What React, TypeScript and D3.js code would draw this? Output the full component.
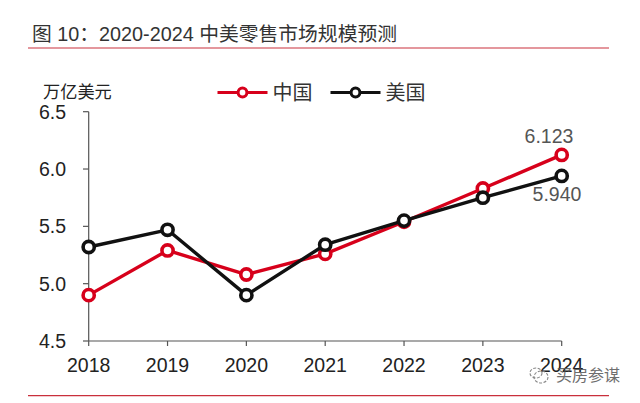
import React from "react";
import * as d3 from "d3";

const years = ["2018", "2019", "2020", "2021", "2022", "2023", "2024"];
const china = [4.9, 5.29, 5.08, 5.26, 5.54, 5.83, 6.123];
const usa = [5.32, 5.47, 4.9, 5.34, 5.55, 5.75, 5.94];
const yTicks = [4.5, 5.0, 5.5, 6.0, 6.5];
const titleText = "图 10：2020-2024 中美零售市场规模预测";
const unitText = "万亿美元";
const legendNames = ["中国", "美国"];
const endLabels = ["6.123", "5.940"];
const watermark = "买房参谋";

const RED = "#d7001b";
const BLACK = "#111111";
const latin = "'Liberation Sans', Arial, sans-serif";
const cjk = "'Liberation Sans', 'Noto Sans CJK SC', sans-serif";

const x = d3.scalePoint<string>().domain(years).range([88.7, 561.7]);
const y = d3.scaleLinear().domain([4.5, 6.5]).range([341, 111.7]);

function Series({ values, color }: { values: number[]; color: string }) {
  const line = d3
    .line<number>()
    .x((_, i) => x(years[i]) as number)
    .y((d) => y(d));
  return (
    <g>
      <path d={line(values) ?? ""} fill="none" stroke={color} strokeWidth={3.4} strokeLinejoin="round" />
      {values.map((v, i) => (
        <circle key={i} cx={x(years[i])} cy={y(v)} r={5.6} fill="#fff" stroke={color} strokeWidth={3.6} />
      ))}
    </g>
  );
}

function LegendItem({ px, name, color }: { px: number; name: string; color: string }) {
  return (
    <g>
      <line x1={px} x2={px + 50} y1={92.5} y2={92.5} stroke={color} strokeWidth={3.2} />
      <circle cx={px + 25} cy={92.5} r={4.4} fill="#fff" stroke={color} strokeWidth={3} />
      <text x={px + 55} y={99.5} fontFamily={cjk} fontSize={20} fill="#333">{name}</text>
    </g>
  );
}

export default function App() {
  return (
    <svg
      width={640}
      height={403}
      style={{ position: "absolute", left: 0, top: 0, background: "#fff" }}
    >
      <text x={32} y={41} fontFamily={cjk} fontSize={19.8} fill="#333">{titleText}</text>
      <line x1={28} x2={609} y1={48} y2={48} stroke="#c9303c" strokeWidth={1.2} />
      <line x1={28} x2={609} y1={395.7} y2={395.7} stroke="#c9303c" strokeWidth={1.2} />

      <text x={43} y={98} fontFamily={cjk} fontSize={17.2} fill="#222">{unitText}</text>

      <LegendItem px={217.5} name={legendNames[0]} color={RED} />
      <LegendItem px={330.5} name={legendNames[1]} color={BLACK} />

      <line x1={88.7} x2={88.7} y1={111.7} y2={341} stroke="#555" strokeWidth={1.2} />
      <line x1={88.7} x2={561.7} y1={341} y2={341} stroke="#555" strokeWidth={1.2} />
      {yTicks.map((t) => (
        <g key={t}>
          <line x1={83} x2={88.7} y1={y(t)} y2={y(t)} stroke="#555" strokeWidth={1.2} />
          <text x={66} y={y(t) + 7} textAnchor="end" fontFamily={latin} fontSize={19.5} fill="#222">{t.toFixed(1)}</text>
        </g>
      ))}
      {years.map((yr) => (
        <g key={yr}>
          <line x1={x(yr)} x2={x(yr)} y1={341} y2={346} stroke="#555" strokeWidth={1.2} />
          <text x={x(yr)} y={372} textAnchor="middle" fontFamily={latin} fontSize={19.5} fill="#222">{yr}</text>
        </g>
      ))}

      <Series values={china} color={RED} />
      <Series values={usa} color={BLACK} />

      <text x={549} y={143} textAnchor="middle" fontFamily={latin} fontSize={19.5} fill="#555">{endLabels[0]}</text>
      <text x={557} y={201} textAnchor="middle" fontFamily={latin} fontSize={19.5} fill="#555">{endLabels[1]}</text>

      <g fill="none" stroke="#888" strokeWidth={1.1} strokeDasharray="3 1.5">
        <ellipse cx={536} cy={373} rx={6} ry={5} />
        <ellipse cx={541} cy={377} rx={7} ry={6} />
      </g>
      <text x={556} y={381} fontFamily={cjk} fontSize={16} fill="#555" opacity={0.85}>{watermark}</text>
    </svg>
  );
}
